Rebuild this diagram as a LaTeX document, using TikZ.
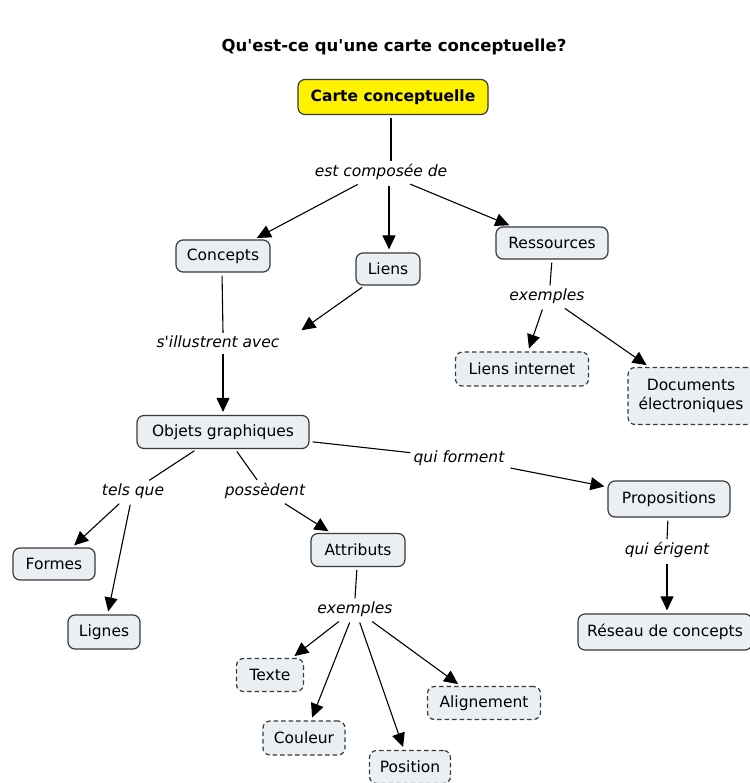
\documentclass[tikz,border=0pt]{standalone}
\usepackage{fontspec}
\newfontfamily\dv{DejaVu Sans}
\usetikzlibrary{arrows.meta}
\definecolor{boxfill}{HTML}{E9EFF3}
\definecolor{boxdraw}{HTML}{3A3A3A}
\tikzset{
  concept/.style={draw=boxdraw, fill=boxfill, rounded corners=7pt, line width=1.2pt,
    font=\dv\fontsize{15.5}{18.5}\selectfont, inner sep=0pt, align=center},
  example/.style={concept, dashed, dash pattern=on 4.5pt off 3pt},
  linkphrase/.style={font=\dv\fontsize{15.5}{18}\selectfont\itshape, inner sep=3pt},
  conn/.style={line width=1.1pt, black, shorten <=3pt},
  arr/.style={conn, -{Triangle[length=14pt,width=13pt]}, shorten >=3pt},
}
\begin{document}
\begin{tikzpicture}[x=1pt,y=-1pt]
\useasboundingbox (0,0) rectangle (749,783);
\fill[white] (0,0) rectangle (749,783);

\node[font=\dv\fontsize{16.5}{19}\selectfont\bfseries] (title) at (394,47) {Qu'est-ce qu'une carte conceptuelle?};

\node[concept, fill=yellow, font=\dv\fontsize{15.5}{18}\selectfont\bfseries, minimum width=190pt, minimum height=35pt] (carte) at (393,97) {Carte conceptuelle};

\node[concept, minimum width=94pt, minimum height=32pt] (concepts) at (223,256) {Concepts};
\node[concept, minimum width=64pt, minimum height=32pt] (liens) at (388,269) {Liens};
\node[concept, minimum width=112pt, minimum height=32pt] (ress) at (552,243) {Ressources};

\node[example, minimum width=133pt, minimum height=34pt] (internet) at (522,369) {Liens internet};
\node[example, minimum width=126pt, minimum height=57pt] (docs) at (691,396) {Documents\\électroniques};

\node[concept, minimum width=172pt, minimum height=33pt] (objets) at (223,432) {Objets graphiques};
\node[concept, minimum width=122pt, minimum height=36pt] (props) at (669,499) {Propositions};
\node[concept, minimum width=174pt, minimum height=36pt] (reseau) at (665,632) {Réseau de concepts};

\node[concept, minimum width=82pt, minimum height=32pt] (formes) at (54,564) {Formes};
\node[concept, minimum width=72pt, minimum height=34pt] (lignes) at (104,632) {Lignes};
\node[concept, minimum width=94pt, minimum height=33pt] (attr) at (358,550) {Attributs};

\node[example, minimum width=67pt, minimum height=33pt] (texte) at (270,675) {Texte};
\node[example, minimum width=82pt, minimum height=34pt] (couleur) at (304,738) {Couleur};
\node[example, minimum width=81pt, minimum height=33pt] (position) at (410,767) {Position};
\node[example, minimum width=113pt, minimum height=33pt] (align) at (484,703) {Alignement};

% link phrases
\node[linkphrase] (l1) at (381,172) {est composée de};
\node[linkphrase] (l2) at (547,296) {exemples};
\node[linkphrase] (l3) at (218,342) {s'illustrent avec};
\node[linkphrase] (l4) at (459,458) {qui forment};
\node[linkphrase] (l5) at (667,550) {qui érigent};
\node[linkphrase] (l6) at (133,491) {tels que};
\node[linkphrase] (l7) at (265,491) {possèdent};
\node[linkphrase] (l8) at (355,609) {exemples};
\coordinate (l3in) at (299,332);

% connectors
\draw[conn] (carte.south -| 391,0) -- (l1.north -| 391,0);
\draw[arr] (l1) -- (concepts);
\draw[arr] (l1.south -| 389,0) -- (liens.north -| 389,0);
\draw[arr] (l1) -- (ress);

\draw[conn] (ress.south -| 552,0) -- (l2.north -| 550,0);
\draw[arr] (l2) -- (internet);
\draw[arr] (l2) -- (docs);

\draw[conn] (concepts.south -| 222,0) -- (l3.north -| 223,0);
\draw[arr] (liens) -- (l3in);
\draw[arr] (l3.south -| 223,0) -- (objets.north -| 223,0);

\draw[conn] (objets) -- (l4);
\draw[arr] (l4) -- (props);

\draw[conn] (props.south -| 668,0) -- (l5.north -| 667,0);
\draw[arr] (l5.south -| 667,0) -- (reseau.north -| 667,0);

\draw[conn] (objets) -- (l6);
\draw[arr] (l6) -- (formes);
\draw[arr] (l6) -- (lignes);

\draw[conn] (objets) -- (l7);
\draw[arr] (l7) -- (attr);

\draw[conn] (attr.south -| 357,0) -- (l8.north -| 355,0);
\draw[arr] (l8) -- (texte);
\draw[arr] (l8) -- (couleur);
\draw[arr] (l8) -- (position);
\draw[arr] (l8) -- (align);
\end{tikzpicture}
\end{document}
